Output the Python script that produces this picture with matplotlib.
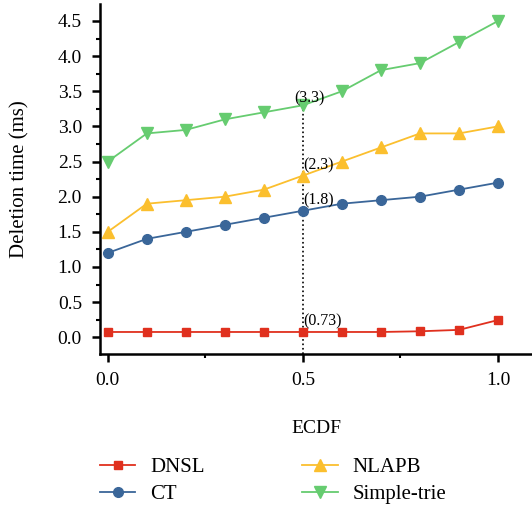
import matplotlib
matplotlib.use('Agg')
import matplotlib.pyplot as plt
from matplotlib.ticker import MultipleLocator

ecdf = [0.0, 0.1, 0.2, 0.3, 0.4, 0.5, 0.6, 0.7, 0.8, 0.9, 1.0]
dnsl = [0.075, 0.075, 0.075, 0.075, 0.075, 0.075, 0.075, 0.075, 0.085, 0.105, 0.245]
ct = [1.2, 1.4, 1.5, 1.6, 1.7, 1.8, 1.9, 1.95, 2.0, 2.1, 2.2]
nlapb = [1.5, 1.9, 1.95, 2.0, 2.1, 2.3, 2.5, 2.7, 2.9, 2.9, 3.0]
trie = [2.5, 2.9, 2.95, 3.1, 3.2, 3.3, 3.5, 3.8, 3.9, 4.2, 4.5]

mark_x = 0.5
mark_labels = ['(3.3)', '(2.3)', '(1.8)', '(0.73)']

plt.rcParams['font.family'] = ['Liberation Serif', 'DejaVu Serif']

fig = plt.figure(figsize=(5.32, 5.11), dpi=100)
ax = fig.add_axes([0.188, 0.307, 0.812, 0.685])

ax.plot(ecdf, dnsl, color='#e0301e', marker='s', ms=6, lw=1.3, label='DNSL')
ax.plot(ecdf, ct, color='#3a6699', marker='o', ms=7, lw=1.3, label='CT')
ax.plot(ecdf, nlapb, color='#fbbf2e', marker='^', ms=8, lw=1.3, label='NLAPB')
ax.plot(ecdf, trie, color='#66cc70', marker='v', ms=8, lw=1.3, label='Simple-trie')

# dotted guide at ECDF = 0.5 with value labels
i = ecdf.index(mark_x)
ax.plot([mark_x, mark_x], [-0.24, trie[i]], color='black', ls=':', lw=1.2, zorder=1)
ax.annotate(mark_labels[0], (mark_x, trie[i]), xytext=(5, 5), textcoords='offset points',
            ha='center', va='center', fontsize=11.5)
for val, lab in zip([nlapb[i], ct[i], dnsl[i]], mark_labels[1:]):
    ax.annotate(lab, (mark_x, val), xytext=(0, 7.5), textcoords='offset points',
                ha='left', va='center', fontsize=11.5)

ax.set_xlim(-0.02, 1.087)
ax.set_ylim(-0.24, 4.74)
ax.xaxis.set_major_locator(MultipleLocator(0.5))
ax.xaxis.set_minor_locator(MultipleLocator(0.25))
ax.yaxis.set_major_locator(MultipleLocator(0.5))
ax.yaxis.set_minor_locator(MultipleLocator(0.25))
ax.xaxis.set_major_formatter(plt.FormatStrFormatter('%.1f'))
ax.yaxis.set_major_formatter(plt.FormatStrFormatter('%.1f'))

for s in ['top', 'right']:
    ax.spines[s].set_visible(False)
for s in ['left', 'bottom']:
    ax.spines[s].set_linewidth(1.8)
ax.tick_params(which='major', length=6, width=1.8, labelsize=14, pad=7)
ax.tick_params(which='minor', length=3, width=1.5)

ax.set_xlabel('ECDF', fontsize=14, labelpad=22)
ax.set_ylabel('Deletion time (ms)', fontsize=15, labelpad=20)

fig.legend(loc='upper left', bbox_to_anchor=(0.188, 0.104), ncol=2, frameon=False,
           fontsize=15, handlelength=1.7, handletextpad=0.7, columnspacing=4.7,
           labelspacing=0.35, borderpad=0, borderaxespad=0)

fig.savefig('out.png', dpi=100)
